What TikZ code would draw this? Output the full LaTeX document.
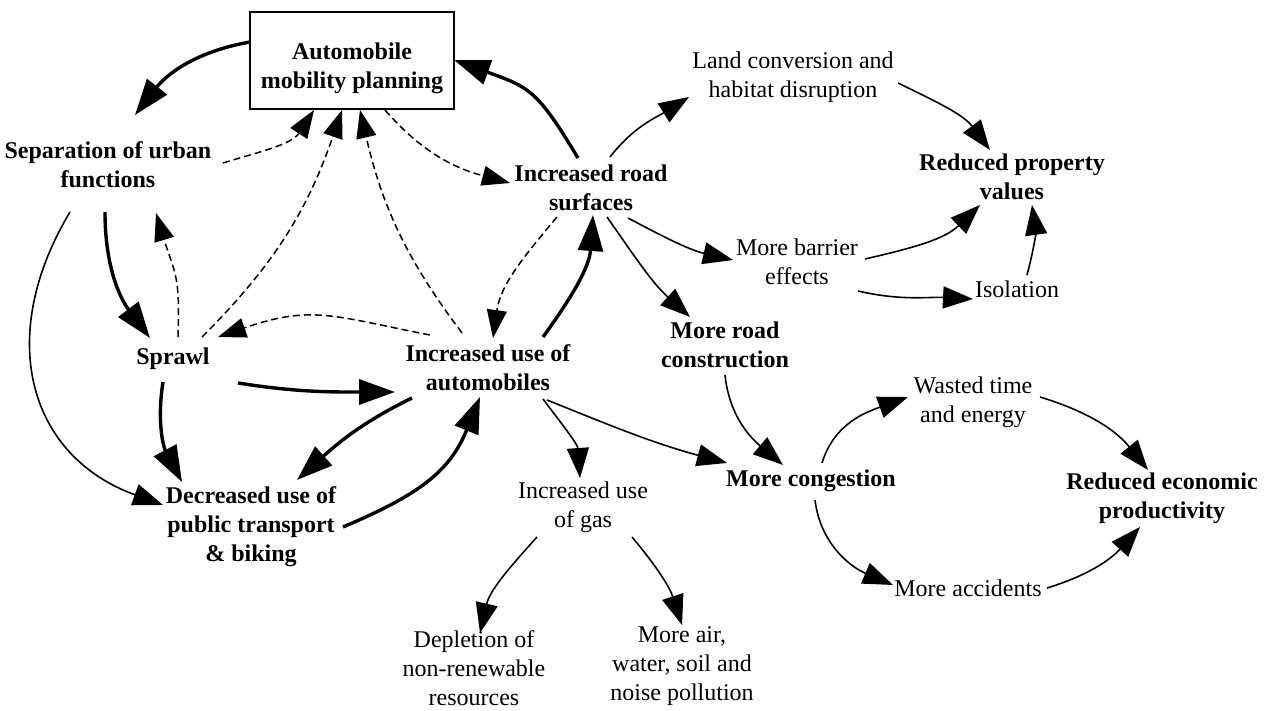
\documentclass[tikz,border=0pt]{standalone}
\usepackage{fontspec}
\setmainfont{Liberation Serif}
\usetikzlibrary{arrows.meta}

\begin{document}
\begin{tikzpicture}[x=0.5pt,y=0.5pt,
    font=\fontsize{12}{14.5}\selectfont,
    concept/.style ={align=center, inner sep=3pt},
    keyconcept/.style ={concept, font=\fontsize{12}{14.5}\selectfont\bfseries},
    planbox/.style ={keyconcept, draw, line width=1pt, minimum width=102pt, minimum height=48.5pt},
    link/.style ={line width=0.8pt, -{Triangle[length=15pt,width=11pt]}},
    strong/.style ={line width=1.7pt, -{Triangle[length=18pt,width=12.5pt]}},
    weak/.style ={line width=0.75pt, dash pattern=on 3.5pt off 2pt, -{Triangle[length=14pt,width=10pt]}}]
   \useasboundingbox (0,0) rectangle (1266,-711);

   \node[planbox] (plan) at (352,-61) {\rule{0pt}{16pt}Automobile\\mobility planning};
   \node[keyconcept] (sep) at (108,-165) {Separation of urban\\functions};
   \node[keyconcept] (sprawl) at (173,-359) {Sprawl};
   \node[keyconcept] (auto) at (488,-368) {Increased use of\\automobiles};
   \node[keyconcept] (road) at (591,-188) {Increased road\\surfaces};
   \node[concept] (land) at (793,-77) {Land conversion and\\habitat disruption};
   \node[keyconcept] (rpv) at (1012,-177) {Reduced property\\values};
   \node[concept] (barrier) at (797,-262) {More barrier\\effects};
   \node[concept] (iso) at (1017,-289) {Isolation};
   \node[keyconcept] (mrc) at (725,-345) {More road\\construction};
   \node[keyconcept] (cong) at (811,-481) {More congestion};
   \node[concept] (gas) at (583,-507) {Increased use\\of gas};
   \node[concept] (depl) at (474,-668) {Depletion of\\non-renewable\\resources};
   \node[concept] (poll) at (682,-666) {More air,\\water, soil and\\noise pollution};
   \node[concept] (wasted) at (973,-402) {Wasted time\\and energy};
   \node[concept] (acc) at (968,-588) {More accidents};
   \node[keyconcept] (rep) at (1162,-498) {Reduced economic\\productivity};
   \node[keyconcept] (dec) at (251,-527) {Decreased use of\\public transport\\\& biking};

   \draw[strong] ([shift={(-102,19)}]plan.center) to[out=190,in=52] ([shift={(27,50)}]sep.center);
   \draw[weak] ([shift={(115,2)}]sep.center) to[out=17,in=237] ([shift={(-38,-49)}]plan.center);
   \draw[strong] ([shift={(-3,-47)}]sep.center) to[out=270,in=127] ([shift={(-23,21)}]sprawl.center);
   \draw[weak] ([shift={(5,22)}]sprawl.center) to[out=88,in=287,looseness=1.3] ([shift={(48,-48)}]sep.center);
   \draw[weak] ([shift={(29,22)}]sprawl.center) to[out=45,in=251] ([shift={(-10,-49)}]plan.center);
   \draw[weak] ([shift={(-26,35)}]auto.center) to[out=127,in=283] ([shift={(8,-49)}]plan.center);
   \draw[weak] ([shift={(33,-49)}]plan.center) to[out=311,in=165] ([shift={(-81,5)}]road.center);
   \draw[strong] ([shift={(-13,30)}]road.center) to[out=121,in=340,looseness=1.3] ([shift={(102,1)}]plan.center);
   \draw[link] ([shift={(19,31)}]road.center) to[out=52,in=212] ([shift={(-104,-20)}]land.center);
   \draw[link] ([shift={(105,-6)}]land.center) to[out=-26,in=127] ([shift={(-22,27)}]rpv.center);
   \draw[link] ([shift={(37,-30)}]road.center) to[out=-28,in=167] ([shift={(-64,2)}]barrier.center);
   \draw[link] ([shift={(16,-29)}]road.center) to[out=-55,in=138] ([shift={(-35,28)}]mrc.center);
   \draw[link] ([shift={(68,3)}]barrier.center) to[out=13,in=224] ([shift={(-32,-28)}]rpv.center);
   \draw[link] ([shift={(61,-29)}]barrier.center) to[out=-13,in=177] ([shift={(-44,-10)}]iso.center);
   \draw[link] ([shift={(10,14)}]iso.center) to[out=75,in=278] ([shift={(20,-28)}]rpv.center);
   \draw[link] ([shift={(0,-30)}]mrc.center) to[out=-84,in=140] ([shift={(-28,16)}]cong.center);
   \draw[link] ([shift={(59,-32)}]auto.center) to[out=-22,in=165] ([shift={(-84,18)}]cong.center);
   \draw[link] ([shift={(55,-31)}]auto.center) to[out=-53,in=94] ([shift={(-3,29)}]gas.center);
   \draw[link] ([shift={(-46,-30)}]gas.center) to[out=228,in=77] ([shift={(6,35)}]depl.center);
   \draw[link] ([shift={(49,-30)}]gas.center) to[out=-50,in=108] ([shift={(0,41)}]poll.center);
   \draw[link] ([shift={(11,18)}]cong.center) to[out=73,in=200] ([shift={(-65,5)}]wasted.center);
   \draw[link] ([shift={(4,-19)}]cong.center) to[out=-83,in=157] ([shift={(-75,3)}]acc.center);
   \draw[link] ([shift={(67,5)}]wasted.center) to[out=-17,in=129] ([shift={(-14,28)}]rep.center);
   \draw[link] ([shift={(79,0)}]acc.center) to[out=17,in=228] ([shift={(-22,-29)}]rep.center);
   \draw[strong] ([shift={(65,-24)}]sprawl.center) to[out=-9,in=180] ([shift={(-93,-24)}]auto.center);
   \draw[weak] ([shift={(-58,33)}]auto.center) to[out=169,in=19,looseness=1.2] ([shift={(45,22)}]sprawl.center);
   \draw[weak] ([shift={(-34,-29)}]road.center) to[out=230,in=82] ([shift={(5,30)}]auto.center);
   \draw[strong] ([shift={(55,31)}]auto.center) to[out=54,in=266] ([shift={(2,-27)}]road.center);
   \draw[strong] ([shift={(-76,-30)}]auto.center) to[out=206,in=42] ([shift={(46,47)}]dec.center);
   \draw[strong] ([shift={(92,0)}]dec.center) to[out=23,in=248,looseness=1.1] ([shift={(-8,-29)}]auto.center);
   \draw[strong] ([shift={(-10,-23)}]sprawl.center) to[out=261,in=118] ([shift={(-69,45)}]dec.center);
   \draw[link] ([shift={(-38,-47)}]sep.center) to[out=239,in=160,looseness=1.2] ([shift={(-88,22)}]dec.center);
\end{tikzpicture}
\end{document}
